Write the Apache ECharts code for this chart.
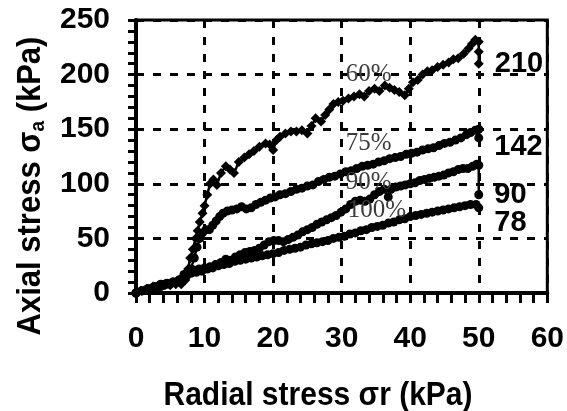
<!DOCTYPE html>
<html>
<head>
<meta charset="utf-8">
<script src="https://cdn.jsdelivr.net/npm/echarts@6/dist/echarts.min.js"></script>
<style>
  html, body { margin: 0; padding: 0; background: #fff; }
  #chart { width: 567px; height: 411px; }
</style>
</head>
<body>
<div id="chart"></div>
<script>
// Stress paths [radial stress, axial stress] in kPa, one array per stress ratio.
const path60 = [
  [0,0],[0.8,2],[1.6,4],[2.5,6],[3.3,6],[4.2,7],[5,7],[5.8,8],[6.6,8],[7.2,12],[7.6,22],[7.9,32],
  [8.3,40],[8.7,50],[9.0,57],[9.3,65],[9.7,73],[10.0,80],[10.4,90],[10.8,100],[11.3,104],[11.8,99],
  [12.4,110],[13.1,116],[13.7,113],[14.3,110],[15.0,120],[15.8,124],[16.5,127],[17.2,130],[18.0,134],
  [18.9,137],[19.5,136],[20.0,131],[20.5,140],[21.0,143],[21.8,146],[22.6,148],[23.4,148],[24.2,149],
  [25.0,146],[25.6,153],[26.2,160],[27.0,157],[27.6,163],[28.2,168],[28.8,173],[29.5,175],[30.2,176],
  [31.0,178],[31.8,180],[32.6,182],[33.3,180],[34.0,185],[34.8,187],[35.5,185],[36.3,190],[37.0,188],
  [37.7,186],[38.4,184],[39.2,181],[39.8,187],[40.4,193],[41.1,195],[41.8,200],[42.5,203],[43.2,204],
  [44.0,207],[44.8,209],[45.6,211],[46.3,214],[47.0,215],[47.8,219],[48.5,224],[49.0,228],[49.5,232],
  [50,230],[50,221],[50,210]
];
const path75 = [
  [0,0],[0.8,2],[1.7,4],[2.5,5],[3.4,7],[4.2,8],[5.0,9],[5.9,10],[6.7,13],[7.4,16],[8.0,22],[8.5,32],
  [8.9,42],[9.3,50],[9.7,55],[10.2,58],[10.7,58],[11.2,62],[11.7,66],[12.2,70],[12.7,73],[13.3,75],
  [14.0,76],[14.7,77],[15.4,79],[16.1,77],[16.8,78],[17.5,81],[18.2,83],[18.9,85],[19.6,87],[20.3,88],
  [21.0,90],[21.8,91],[22.6,93],[23.4,95],[24.2,96],[25.0,98],[25.8,99],[26.6,102],[27.4,104],[28.2,106],
  [29.0,107],[29.8,109],[30.6,111],[31.4,112],[32.2,114],[33.0,116],[33.8,117],[34.6,118],[35.4,120],
  [36.2,121],[37.0,123],[37.8,124],[38.6,125],[39.4,127],[40.2,128],[41.0,129],[41.8,131],[42.6,132],
  [43.4,133],[44.2,135],[45.0,137],[45.8,138],[46.6,140],[47.4,142],[48.2,145],[48.8,147],[49.5,149],
  [50,150],[50,142]
];
const path90 = [
  [0,0],[0.9,2],[1.8,4],[2.7,6],[3.6,8],[4.5,9],[5.4,10],[6.3,12],[7.0,17],[7.6,20],[8.4,21],[9.2,22],
  [10.0,23],[10.8,24],[11.6,26],[12.4,28],[13.1,31],[13.8,30],[14.5,33],[15.2,35],[15.9,37],[16.6,38],
  [17.3,39],[18.0,41],[18.7,44],[19.4,47],[20.1,48],[20.8,48],[21.5,47],[22.2,49],[22.9,51],[23.6,53],
  [24.3,56],[25.0,58],[25.7,60],[26.4,63],[27.1,65],[27.8,67],[28.5,69],[29.2,71],[29.9,74],[30.6,77],
  [31.3,81],[32.0,84],[32.7,85],[33.4,84],[34.1,86],[34.8,90],[35.5,93],[36.2,95],[36.8,88],[37.2,95],
  [37.9,97],[38.6,98],[39.3,99],[40.0,100],[40.7,101],[41.4,103],[42.1,104],[42.8,105],[43.5,106],
  [44.2,107],[44.9,108],[45.6,110],[46.3,111],[47.0,113],[47.7,114],[48.4,114],[49.1,116],[49.7,118],
  [50,117],[50,90]
];
const path100 = [
  [0,0],[0.9,2],[1.8,3],[2.7,5],[3.6,6],[4.5,8],[5.4,10],[6.3,12],[7.2,16],[8.0,18],[8.8,19],[9.6,20],
  [10.4,22],[11.2,23],[12.0,25],[12.8,26],[13.6,27],[14.4,29],[15.2,30],[16.0,31],[16.8,32],[17.6,33],
  [18.4,34],[19.2,35],[20.0,36],[20.8,37],[21.6,39],[22.4,40],[23.2,41],[24.0,42],[24.8,44],[25.6,45],
  [26.4,46],[27.2,47],[28.0,48],[28.8,50],[29.6,51],[30.4,52],[31.2,54],[32.0,55],[32.8,57],[33.6,58],
  [34.4,60],[35.2,61],[36.0,62],[36.8,64],[37.6,65],[38.4,67],[39.2,68],[40.0,70],[40.8,71],[41.6,72],
  [42.4,73],[43.2,74],[44.0,75],[44.8,76],[45.6,77],[46.4,78],[47.2,79],[48.0,80],[48.8,81],[49.6,81],
  [50,78]
];

// Stress-ratio annotations, anchored in data coordinates.
const ratioNames = ['60%', '75%', '90%', '100%'];
const ratioAnchors = [[30.6, 200], [30.6, 137], [30.6, 101], [30.9, 76]];

const sans = 'Liberation Sans, Arial, Helvetica, sans-serif';
const serif = 'Liberation Serif, Times New Roman, serif';

// The last point of each path carries its final axial stress as a label.
function withEndLabel(points, dy) {
  return points.map((p, i) => i < points.length - 1 ? p : {
    value: p,
    label: {
      show: true, position: 'right', distance: 11, offset: [0, dy],
      formatter: String(p[1]),
      fontFamily: sans, fontWeight: 'bold', fontSize: 29, color: '#000'
    }
  });
}

function pathSeries(name, points, symbol, size, dy) {
  return {
    name, type: 'line', data: withEndLabel(points, dy),
    symbol, symbolSize: size, showSymbol: true,
    lineStyle: { color: '#000', width: 2.5 },
    itemStyle: { color: '#000' },
    z: 3
  };
}

const chart = echarts.init(document.getElementById('chart'), null, { renderer: 'canvas' });

const dashed = { color: '#000', width: 3, type: [8, 9] };
const tickLabel = { fontFamily: sans, fontWeight: 'bold', fontSize: 30, color: '#000' };

chart.setOption({
  animation: false,
  backgroundColor: '#fff',
  grid: { left: 136, right: 17, top: 20, bottom: 118, show: true, borderColor: '#000', borderWidth: 3 },
  xAxis: {
    type: 'value', min: 0, max: 60, interval: 10,
    axisLine: { show: true, onZero: false, lineStyle: { color: '#000', width: 4 } },
    axisTick: { show: true, length: 10, lineStyle: { color: '#000', width: 3 } },
    minorTick: { show: true, splitNumber: 5, length: 10, lineStyle: { color: '#000', width: 3 } },
    splitLine: { show: true, lineStyle: dashed },
    axisLabel: Object.assign({ margin: 31 }, tickLabel)
  },
  yAxis: {
    type: 'value', min: 0, max: 250, interval: 50,
    axisLine: { show: true, onZero: false, lineStyle: { color: '#000', width: 4 } },
    axisTick: { show: true, length: 8, lineStyle: { color: '#000', width: 3 } },
    minorTick: { show: true, splitNumber: 5, length: 8, lineStyle: { color: '#000', width: 3 } },
    splitLine: { show: true, lineStyle: dashed },
    axisLabel: Object.assign({ margin: 26 }, tickLabel)
  },
  series: [
    pathSeries('60%', path60, 'diamond', 10, 0),
    pathSeries('75%', path75, 'circle', 9, 9),
    pathSeries('90%', path90, 'circle', 9, 0),
    pathSeries('100%', path100, 'circle', 9, 15)
  ]
});

// Axis titles and stress-ratio annotations.
const graphics = [
  {
    type: 'text', x: 318, y: 396, scaleY: 1.08,
    style: {
      text: 'Radial stress σr (kPa)', align: 'center', verticalAlign: 'middle',
      font: 'bold 30px ' + sans, fill: '#000'
    }
  },
  {
    type: 'text', x: 31, y: 186, rotation: Math.PI / 2, scaleY: 1.08,
    style: {
      text: '{t|Axial stress σ}{s|a}{t| (kPa)}', align: 'center', verticalAlign: 'middle',
      rich: {
        t: { fontFamily: sans, fontWeight: 'bold', fontSize: 31, fill: '#000', color: '#000' },
        s: { fontFamily: sans, fontWeight: 'bold', fontSize: 19, fill: '#000', color: '#000', padding: [13, 0, 0, 0] }
      }
    }
  }
];
ratioNames.forEach((name, i) => {
  const [px, py] = chart.convertToPixel({ gridIndex: 0 }, ratioAnchors[i]);
  graphics.push({
    type: 'text', x: px, y: py, z: 10,
    style: { text: name, align: 'left', verticalAlign: 'middle', font: '25px ' + serif, fill: '#3c3c3c' }
  });
});
chart.setOption({ graphic: graphics });
</script>
</body>
</html>
